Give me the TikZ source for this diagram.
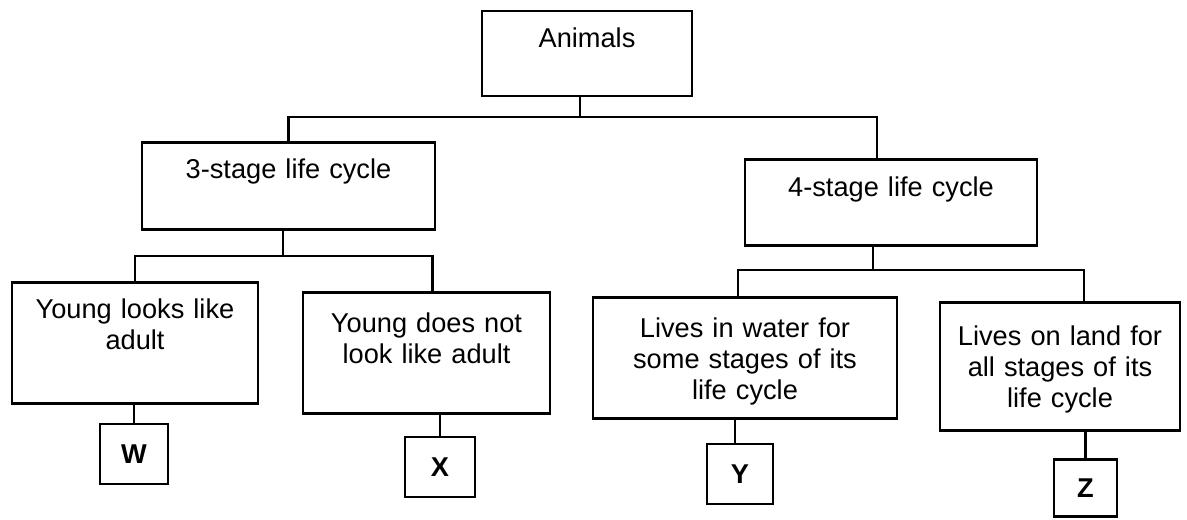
\documentclass[tikz,border=0pt]{standalone}
\usepackage{fontspec}
\setmainfont{Liberation Sans}

\begin{document}
\begin{tikzpicture}[x=0.5pt,y=-0.5pt,line width=1.25pt,
  box/.style={draw,anchor=north,align=center,inner sep=0pt,font=\fontsize{13.6}{15.5}\selectfont},
  letter/.style={draw,inner sep=0pt,minimum width=34pt,minimum height=30pt,font=\fontsize{13.6}{15.5}\selectfont\bfseries}]

\useasboundingbox (0,0) rectangle (1187,519);

\node(ani) at (587,10)[box,text width=105pt,text height=18pt,text depth=24.5pt] {Animals};
\node(three) at (288.5,141)[box,text width=146.5pt,text height=18pt,text depth=25.5pt] {3-stage life cycle};
\node(four) at (891,158)[box,text width=146pt,text height=18.5pt,text depth=24.5pt] {4-stage life cycle};

\node(yla) at (135,281)[box,text width=123pt,text height=18pt,text depth=42.5pt] {Young looks like\\adult};
\node(ydn) at (426.5,291)[box,text width=123.5pt,text height=20pt,text depth=40.5pt] {Young does not\\look like adult};
\node(liw) at (745,296)[box,text width=152pt,text height=20pt,text depth=40.5pt] {Lives in water for\\some stages of its\\life cycle};
\node(lol) at (1060,301)[box,text width=120pt,text height=21.5pt,text depth=42.5pt] {Lives on land for\\all stages of its\\life cycle};

\node(w) at (134,454)[letter] {W};
\node(x) at (440,467)[letter,minimum width=35pt] {X};
\node(y) at (740,474)[letter,minimum width=33pt] {Y};
\node(z) at (1085.5,488)[letter,minimum width=31.5pt,minimum height=28.5pt] {Z};

% top level
\coordinate (j0) at (580,117);
\draw (ani.south -| j0) -- (j0);
\draw (three.north) |- (j0) -| ([xshift=-7pt]four.north);

% 3-stage branch
\coordinate (j1) at (283,256);
\draw (three.south -| j1) -- (j1);
\draw (yla.north) |- (j1) -| ([xshift=3pt]ydn.north);

% 4-stage branch
\coordinate (j2) at (873,270);
\draw (four.south -| j2) -- (j2);
\draw ([xshift=-3.5pt]liw.north) |- (j2) -| ([xshift=12pt]lol.north);

\draw (w.north) -- (w.north |- yla.south);
\draw (x.north) -- (x.north |- ydn.south);
\draw ([xshift=-2.5pt]y.north) -- ([xshift=-2.5pt]y.north |- liw.south);
\draw (z.north) -- (z.north |- lol.south);

\end{tikzpicture}
\end{document}
